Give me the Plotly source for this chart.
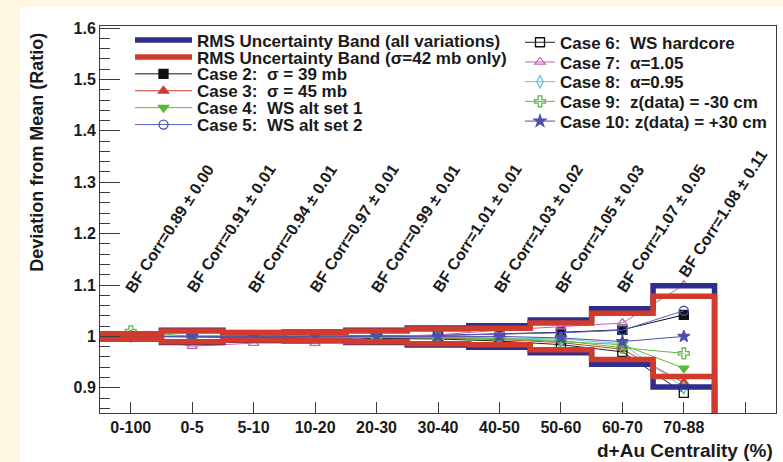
import numpy as np
import plotly.graph_objects as go

# ---------------- data ----------------
categories = ["0-100", "0-5", "5-10", "10-20", "20-30", "30-40", "40-50", "50-60", "60-70", "70-88"]

rms_all = [0.005, 0.012, 0.0075, 0.0085, 0.012, 0.0165, 0.021, 0.032, 0.054, 0.0985]
rms_42 = [0.005, 0.0105, 0.007, 0.008, 0.0105, 0.0145, 0.016, 0.026, 0.045, 0.078]

case2 = [1.000, 1.000, 1.000, 1.000, 1.001, 1.002, 1.005, 1.008, 1.013, 1.042]
case3 = [1.000, 0.999, 0.999, 0.999, 0.998, 0.997, 0.994, 0.988, 0.975, 0.910]
case4 = [1.000, 1.000, 0.999, 0.999, 0.999, 0.998, 0.995, 0.990, 0.984, 0.938]
case5 = [1.000, 1.000, 1.000, 1.001, 1.001, 1.002, 1.004, 1.007, 1.012, 1.050]
case6 = [1.000, 0.999, 0.999, 0.998, 0.997, 0.995, 0.991, 0.984, 0.970, 0.890]
case7 = [1.000, 0.981, 0.987, 0.987, 1.000, 1.003, 1.012, 1.019, 1.026, 1.100]
case8 = [1.000, 1.000, 1.000, 1.000, 1.000, 0.999, 0.997, 0.995, 0.986, 0.900]
case9 = [1.010, 1.000, 1.000, 1.000, 0.999, 0.998, 0.996, 0.992, 0.978, 0.967]
case10 = [1.000, 1.000, 1.000, 1.000, 1.000, 1.000, 1.000, 0.997, 0.990, 1.000]

bf_corr = ["0.89", "0.91", "0.94", "0.97", "0.99", "1.01", "1.03", "1.05", "1.07", "1.08"]
bf_err = ["0.00", "0.01", "0.01", "0.01", "0.01", "0.01", "0.02", "0.03", "0.05", "0.11"]

y_tickvals = [0.9, 1.0, 1.1, 1.2, 1.3, 1.4, 1.5, 1.6]
y_ticktext = ["0.9", "1", "1.1", "1.2", "1.3", "1.4", "1.5", "1.6"]

# ---------------- layout helpers ----------------
W, H = 783, 462
L, R, T, B = 100, 776, 26, 413
FONT = "Liberation Sans, Arial, Helvetica, sans-serif"
TXT = "#1a1a1a"
AXC = "#3a3a3a"
BLUE = "#2e2f8c"
RED = "#d23b2b"


def pxx(x):
    return (x - L) / (R - L)


def pxy(y):
    return (B - y) / (B - T)


xpos = np.arange(len(categories))


def step_xy(vals):
    # histogram outline: left edges, final right edge, then drop to baseline
    edges_l = xpos - 0.5
    xs = list(edges_l) + [xpos[-1] + 0.5, xpos[-1] + 0.5]
    ys = list(vals) + [vals[-1], 0.0]
    return xs, ys


fig = go.Figure()

cases = [
    ("Case 2:  \u03c3 = 39 mb", case2, "square", "#111111", "#111111"),
    ("Case 3:  \u03c3 = 45 mb", case3, "triangle-up", RED, RED),
    ("Case 4:  WS alt set 1", case4, "triangle-down", "#5cb836", "#5cb836"),
    ("Case 5:  WS alt set 2", case5, "circle-open", "#4b4fb5", "#5c60c4"),
    ("Case 6:  WS hardcore", case6, "square-open", "#111111", "#222222"),
    ("Case 7:  \u03b1=1.05", case7, "triangle-up-open", "#c462b4", "#c462b4"),
    ("Case 8:  \u03b1=0.95", case8, "diamond-tall-open", "#6cc4d4", "#6cc4d4"),
    ("Case 9:  z(data) = -30 cm", case9, "cross-open", "#62b848", "#62b848"),
    ("Case 10: z(data) = +30 cm", case10, "star", "#4f4fb0", "#4f4fb0"),
]

# legend rows (pixel centres) -------------------------------------------
left_rows = [40.5, 57.4, 74.3, 91.2, 108.1, 125.0]
right_rows = [42.7, 62.4, 82.1, 101.8, 121.5]
LEFT_X, RIGHT_X = 130, 520

legend_names = ["legend" if k == 0 else f"legend{k + 1}" for k in range(11)]

slots = [(LEFT_X, r, 57) for r in left_rows] + [(RIGHT_X, r, 30) for r in right_rows]

legend_defs = {}
for name, (x0, yc, iw) in zip(legend_names, slots):
    legend_defs[name] = dict(
        x=pxx(x0), y=pxy(yc), xanchor="left", yanchor="middle",
        bgcolor="rgba(0,0,0,0)", borderwidth=0, itemwidth=iw,
        font=dict(family=FONT, size=17, color=TXT, weight="bold"),
        itemclick=False, itemdoubleclick=False,
    )

# case traces (drawn first, bands on top)
for j, (label, vals, sym, mcol, lcol) in enumerate(cases):
    fig.add_trace(go.Scatter(
        x=xpos, y=vals, mode="lines+markers", name=label,
        legend=legend_names[2 + j],
        line=dict(color=lcol, width=1),
        marker=dict(symbol=sym, size=9, color=mcol,
                    line=dict(color=mcol, width=1.3)),
        cliponaxis=True,
    ))

# bands
for rms, col, label, lg in [(rms_all, BLUE, "RMS Uncertainty Band (all variations)", legend_names[0]),
                            (rms_42, RED, "RMS Uncertainty Band (\u03c3=42 mb only)", legend_names[1])]:
    up = [1 + v for v in rms]
    lo = [1 - v for v in rms]
    for k, vals in enumerate([up, lo]):
        xs, ys = step_xy(vals)
        fig.add_trace(go.Scatter(
            x=xs, y=ys, mode="lines", line=dict(color=col, width=5.5, shape="hv"),
            name=label, showlegend=(k == 0), legend=lg, hoverinfo="skip",
        ))

# BF Corr labels
annotations = []
for i, (c, e) in enumerate(zip(bf_corr, bf_err)):
    annotations.append(dict(
        x=xpos[i], y=1.21, xref="x", yref="y", xshift=39,
        yshift=15 if i == len(bf_corr) - 1 else 0,
        text=f"BF Corr={c} \u00b1 {e}", showarrow=False, textangle=-57,
        xanchor="center", yanchor="middle",
        font=dict(family=FONT, size=16, color=TXT, weight="bold"),
    ))

annotations.append(dict(
    x=pxx(36.7), y=pxy(152), xref="paper", yref="paper",
    text="Deviation from Mean (Ratio)", showarrow=False, textangle=-90,
    xanchor="center", yanchor="middle",
    font=dict(family=FONT, size=18, color=TXT, weight="bold"),
))
annotations.append(dict(
    x=pxx(775), y=pxy(450), xref="paper", yref="paper",
    text="d+Au Centrality (%)", showarrow=False,
    xanchor="right", yanchor="middle",
    font=dict(family=FONT, size=19, color=TXT, weight="bold"),
))

shapes = [dict(
    type="rect", xref="paper", yref="paper", layer="below",
    x0=pxx(20), x1=pxx(W + 5), y0=pxy(H + 5), y1=pxy(7),
    fillcolor="white", line=dict(width=0),
)]

layout = dict(
    width=W, height=H,
    margin=dict(l=L, r=W - R, t=T, b=H - B, pad=0),
    paper_bgcolor="#fff7e1", plot_bgcolor="white",
    showlegend=True,
    annotations=annotations, shapes=shapes,
    xaxis=dict(
        range=[-0.5, len(categories) + 0.5], tickmode="array",
        tickvals=list(range(len(categories) + 1)),
        ticktext=categories + [""],
        ticks="inside", ticklen=11, tickcolor=AXC, tickwidth=1,
        showline=True, linecolor=AXC, linewidth=1, mirror=True,
        showgrid=False, zeroline=False,
        tickfont=dict(family=FONT, size=16, color=TXT, weight="bold"),
    ),
    yaxis=dict(
        range=[0.851, 1.604], tickmode="array",
        tickvals=y_tickvals, ticktext=y_ticktext,
        ticks="inside", ticklen=20, tickcolor=AXC, tickwidth=1,
        minor=dict(tickmode="linear", tick0=0.9, dtick=0.02, ticks="inside",
                   ticklen=10, tickcolor=AXC, tickwidth=1, showgrid=False),
        showline=True, linecolor=AXC, linewidth=1, mirror=True,
        showgrid=False, zeroline=False,
        tickfont=dict(family=FONT, size=16, color=TXT, weight="bold"),
    ),
)
layout.update(legend_defs)
fig.update_layout(**layout)

fig.write_html("out.html")
